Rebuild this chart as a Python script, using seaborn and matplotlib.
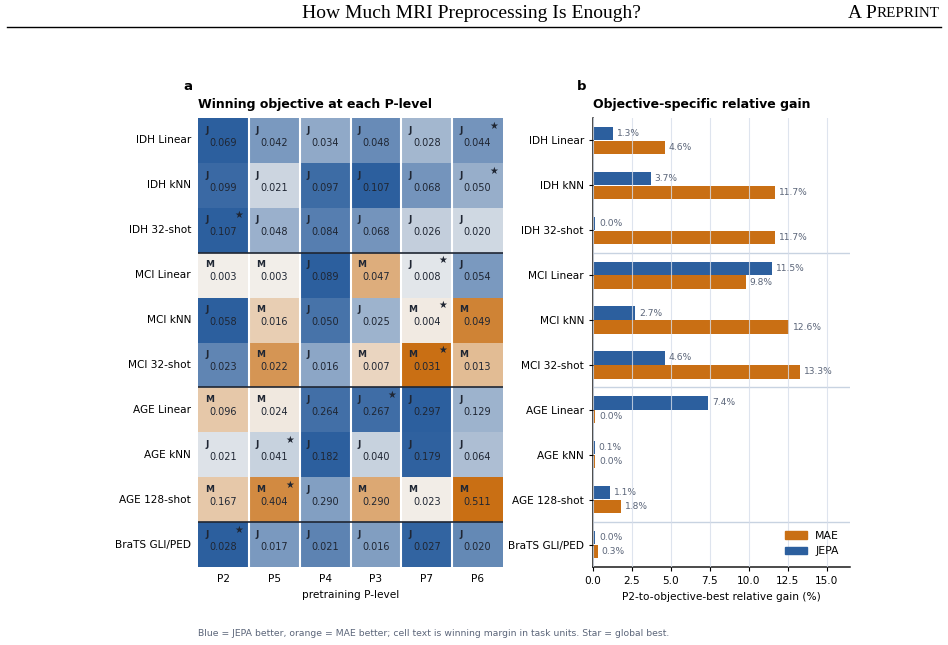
import matplotlib
matplotlib.use("Agg")
import matplotlib.pyplot as plt
import numpy as np
import pandas as pd
import seaborn as sns
from matplotlib.colors import LinearSegmentedColormap
from matplotlib.lines import Line2D
from matplotlib.patches import Patch

# Data
tasks = ["IDH Linear", "IDH kNN", "IDH 32-shot", "MCI Linear", "MCI kNN", "MCI 32-shot",
         "AGE Linear", "AGE kNN", "AGE 128-shot", "BraTS GLI/PED"]
plevels = ["P2", "P5", "P4", "P3", "P7", "P6"]

winners = [
    ["J", "J", "J", "J", "J", "J"],
    ["J", "J", "J", "J", "J", "J"],
    ["J", "J", "J", "J", "J", "J"],
    ["M", "M", "J", "M", "J", "J"],
    ["J", "M", "J", "J", "M", "M"],
    ["J", "M", "J", "M", "M", "M"],
    ["M", "M", "J", "J", "J", "J"],
    ["J", "J", "J", "J", "J", "J"],
    ["M", "M", "J", "M", "M", "M"],
    ["J", "J", "J", "J", "J", "J"],
]
margins = [
    [0.069, 0.042, 0.034, 0.048, 0.028, 0.044],
    [0.099, 0.021, 0.097, 0.107, 0.068, 0.050],
    [0.107, 0.048, 0.084, 0.068, 0.026, 0.020],
    [0.003, 0.003, 0.089, 0.047, 0.008, 0.054],
    [0.058, 0.016, 0.050, 0.025, 0.004, 0.049],
    [0.023, 0.022, 0.016, 0.007, 0.031, 0.013],
    [0.096, 0.024, 0.264, 0.267, 0.297, 0.129],
    [0.021, 0.041, 0.182, 0.040, 0.179, 0.064],
    [0.167, 0.404, 0.290, 0.290, 0.023, 0.511],
    [0.028, 0.017, 0.021, 0.016, 0.027, 0.020],
]
best_plevel = ["P6", "P6", "P2", "P7", "P7", "P7", "P3", "P5", "P5", "P2"]

jepa_gain = [1.3, 3.7, 0.0, 11.5, 2.7, 4.6, 7.4, 0.1, 1.1, 0.0]
mae_gain = [4.6, 11.7, 11.7, 9.8, 12.6, 13.3, 0.0, 0.0, 1.8, 0.3]

BLUE = "#2c5f9e"
ORANGE = "#c96f14"
NEUTRAL = "#f4f3f1"
TXT = "#1f2633"
GREY = "#5b6579"

# signed margin normalised within each task row (blue = JEPA, orange = MAE)
marg = np.array(margins)
sign = np.where(np.array(winners) == "J", 1.0, -1.0)
signed = sign * marg / marg.max(axis=1, keepdims=True)
heat_df = pd.DataFrame(signed, index=tasks, columns=plevels)

cmap = LinearSegmentedColormap.from_list("mae_jepa", [ORANGE, NEUTRAL, BLUE])

W, H = 948, 645
fig = plt.figure(figsize=(W / 100, H / 100), dpi=100)


def box(x0, y0, x1, y1):
    return [x0 / W, 1 - y1 / H, (x1 - x0) / W, (y1 - y0) / H]


# header
fig.text(471 / W, 1 - 13 / H, "How Much MRI Preprocessing Is Enough?", family="Liberation Serif",
         fontsize=14, ha="center", va="center")
fig.text(848 / W, 1 - 13 / H, "A P", family="Liberation Serif", fontsize=14, ha="left", va="center")
fig.text(877 / W, 1 - 13.8 / H, "REPRINT", family="Liberation Serif", fontsize=10.8, ha="left", va="center")
fig.add_artist(Line2D([7 / W, 941 / W], [1 - 27 / H] * 2, color="black", lw=1))

# panel a: heatmap
ax1 = fig.add_axes(box(198, 118, 503, 567))
sns.heatmap(heat_df, cmap=cmap, vmin=-1, vmax=1, cbar=False, ax=ax1)
for x in range(1, len(plevels)):
    ax1.axvline(x, color="white", lw=1.5)
for y in (3, 6, 9):
    ax1.axhline(y, color="#1f2633", lw=1.2)
for i, task in enumerate(tasks):
    for j, p in enumerate(plevels):
        ax1.text(j + 0.14, i + 0.27, winners[i][j], fontsize=6.5, fontweight="bold",
                 color=TXT, ha="left", va="center")
        ax1.text(j + 0.5, i + 0.55, f"{margins[i][j]:.3f}", fontsize=7, color=TXT,
                 ha="center", va="center")
        if best_plevel[i] == p:
            ax1.text(j + 0.81, i + 0.17, "★", fontsize=7, color=TXT, ha="center", va="center")
ax1.set_xticklabels(plevels, rotation=0, fontsize=7.6)
ax1.set_yticklabels(tasks, rotation=0, fontsize=7.6)
ax1.tick_params(length=0, pad=5)
ax1.set_xlabel("pretraining P-level", fontsize=7.6, labelpad=4)
ax1.set_ylabel("")
ax1.set_title("Winning objective at each P-level", loc="left", fontsize=9, fontweight="bold", pad=7)
fig.text(183 / W, 1 - 87 / H, "a", fontsize=9.5, fontweight="bold", ha="left", va="center")

# panel b: grouped horizontal bars (zero gains get a hairline so they stay visible)
gain_df = pd.DataFrame({
    "task": tasks * 2,
    "gain": jepa_gain + mae_gain,
    "objective": ["JEPA"] * len(tasks) + ["MAE"] * len(tasks),
})
gain_df["shown"] = gain_df["gain"].where(gain_df["gain"] > 0, 0.15)
ax2 = fig.add_axes(box(593, 118, 850, 567))
sns.barplot(data=gain_df, y="task", x="shown", hue="objective", hue_order=["JEPA", "MAE"],
            palette={"JEPA": BLUE, "MAE": ORANGE}, orient="h", width=0.62, gap=0.05,
            saturation=1, legend=False, ax=ax2)
for cont, vals in zip(ax2.containers, [jepa_gain, mae_gain]):
    ax2.bar_label(cont, labels=[f"{v:.1f}%" for v in vals], padding=3,
                  fontsize=6.6, color=GREY)
ax2.set_xlim(0, 16.5)
ax2.set_ylim(len(tasks) - 0.5, -0.5)
ax2.set_xticks(np.arange(0, 16, 2.5))
ax2.grid(axis="x", color="#d6deea", lw=0.8, alpha=0.8, zorder=5)
ax2.set_axisbelow(False)
for y in (2.5, 5.5, 8.5):
    ax2.axhline(y, color="#c8d3e1", lw=1)
for s in ("top", "right"):
    ax2.spines[s].set_visible(False)
for s in ("left", "bottom"):
    ax2.spines[s].set_color("#1a1a1a")
    ax2.spines[s].set_linewidth(1.1)
ax2.tick_params(labelsize=7.6, length=3)
ax2.set_ylabel("")
ax2.set_xlabel("P2-to-objective-best relative gain (%)", fontsize=7.6, labelpad=4)
ax2.set_title("Objective-specific relative gain", loc="left", fontsize=9, fontweight="bold", pad=7)
ax2.legend(handles=[Patch(color=ORANGE, label="MAE"), Patch(color=BLUE, label="JEPA")],
           loc="lower right", frameon=False, fontsize=7.8, handlelength=2.0, borderaxespad=0.6)
fig.text(577 / W, 1 - 87 / H, "b", fontsize=9.5, fontweight="bold", ha="left", va="center")

# caption
fig.text(198 / W, 1 - 633 / H,
         "Blue = JEPA better, orange = MAE better; cell text is winning margin in task units. Star = global best.",
         fontsize=6.7, color=GREY, ha="left", va="center")

fig.savefig("out.png", dpi=100)
